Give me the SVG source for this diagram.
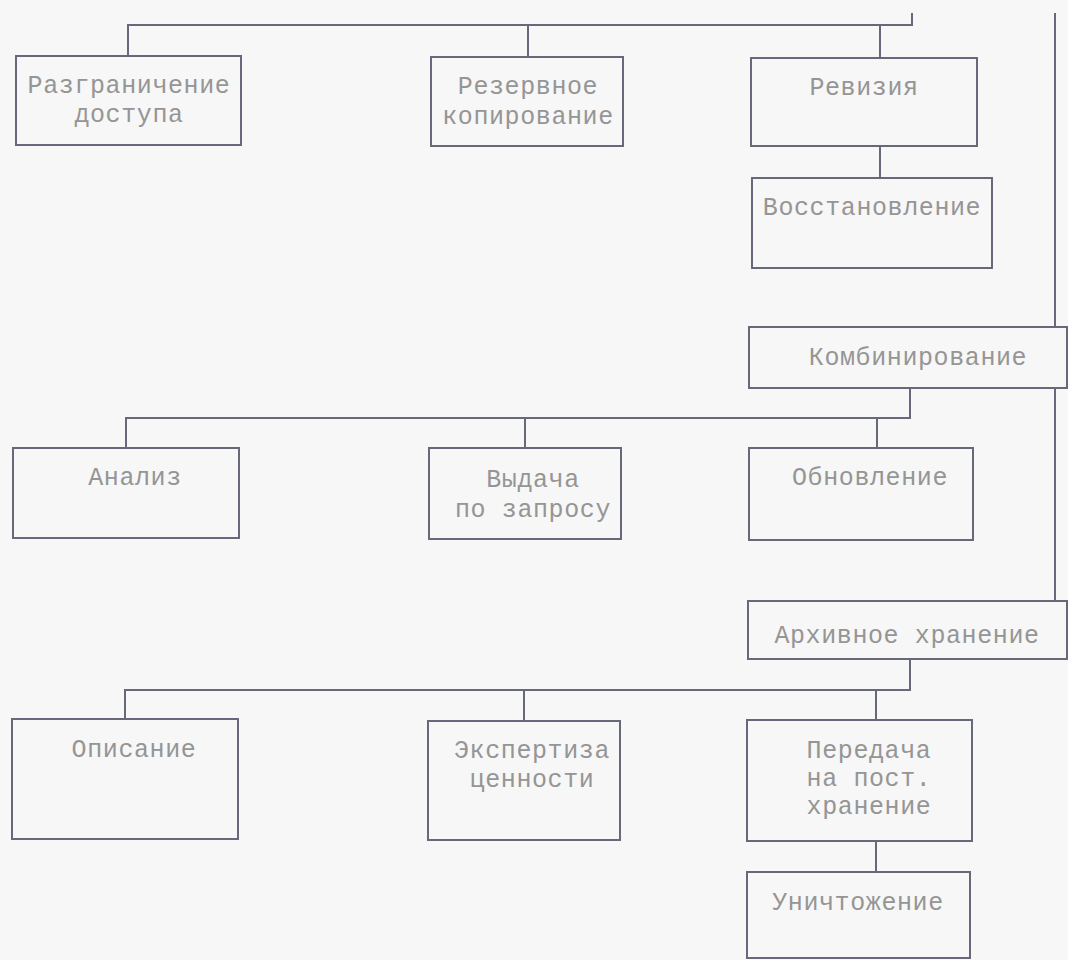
<svg xmlns="http://www.w3.org/2000/svg" width="1068" height="960" viewBox="0 0 1068 960">
<style>
.bg{fill:#f7f7f7}
.box{fill:none;stroke:#68687b;stroke-width:2}
.ln{fill:none;stroke:#68687b;stroke-width:2}
text{font-family:"Liberation Mono","Courier New",monospace;font-size:25px;letter-spacing:0.6px;fill:#959595;text-anchor:middle}
</style>
<rect class="bg" x="0" y="0" width="1068" height="960"/>
<g id="connectors">
<polyline class="ln" points="912,13 912,25 128,25 128,56"/>
<line class="ln" x1="528" y1="25" x2="528" y2="57"/>
<line class="ln" x1="880" y1="25" x2="880" y2="58"/>
<line class="ln" x1="880" y1="146" x2="880" y2="178"/>
<line class="ln" x1="1055" y1="13" x2="1055" y2="327"/>
<line class="ln" x1="1055" y1="388" x2="1055" y2="601"/>
<polyline class="ln" points="910,388 910,418 126,418 126,448"/>
<line class="ln" x1="525" y1="418" x2="525" y2="448"/>
<line class="ln" x1="877" y1="418" x2="877" y2="448"/>
<polyline class="ln" points="910,659 910,690 125,690 125,719"/>
<line class="ln" x1="524" y1="690" x2="524" y2="721"/>
<line class="ln" x1="876" y1="690" x2="876" y2="720"/>
<line class="ln" x1="876" y1="841" x2="876" y2="872"/>
</g>
<g id="n-razgranichenie"><rect class="box" x="16" y="56" width="225" height="89"/><text x="129" y="93">Разграничение</text><text x="129" y="122">доступа</text></g>
<g id="n-rezervnoe"><rect class="box" x="431" y="57" width="192" height="89"/><text x="528" y="94">Резервное</text><text x="528" y="124">копирование</text></g>
<g id="n-reviziya"><rect class="box" x="751" y="58" width="226" height="88"/><text x="864" y="95">Ревизия</text></g>
<g id="n-vosstanovlenie"><rect class="box" x="752" y="178" width="240" height="90"/><text x="872" y="215">Восстановление</text></g>
<g id="n-kombinirovanie"><rect class="box" x="749" y="327" width="318" height="61"/><text x="918" y="365">Комбинирование</text></g>
<g id="n-analiz"><rect class="box" x="13" y="448" width="226" height="90"/><text x="135" y="485">Анализ</text></g>
<g id="n-vydacha"><rect class="box" x="429" y="448" width="192" height="91"/><text x="533" y="487">Выдача</text><text x="533" y="517">по запросу</text></g>
<g id="n-obnovlenie"><rect class="box" x="749" y="448" width="224" height="92"/><text x="870" y="485">Обновление</text></g>
<g id="n-arkhivnoe"><rect class="box" x="748" y="601" width="319" height="58"/><text x="907" y="643">Архивное хранение</text></g>
<g id="n-opisanie"><rect class="box" x="12" y="719" width="226" height="120"/><text x="134" y="757">Описание</text></g>
<g id="n-ekspertiza"><rect class="box" x="428" y="721" width="192" height="119"/><text x="532" y="758">Экспертиза</text><text x="532" y="787">ценности</text></g>
<g id="n-peredacha"><rect class="box" x="747" y="720" width="225" height="121"/><text x="869" y="758">Передача</text><text x="869" y="786">на пост.</text><text x="869" y="814">хранение</text></g>
<g id="n-unichtozhenie"><rect class="box" x="747" y="872" width="223" height="86"/><text x="858" y="910">Уничтожение</text></g>
</svg>
